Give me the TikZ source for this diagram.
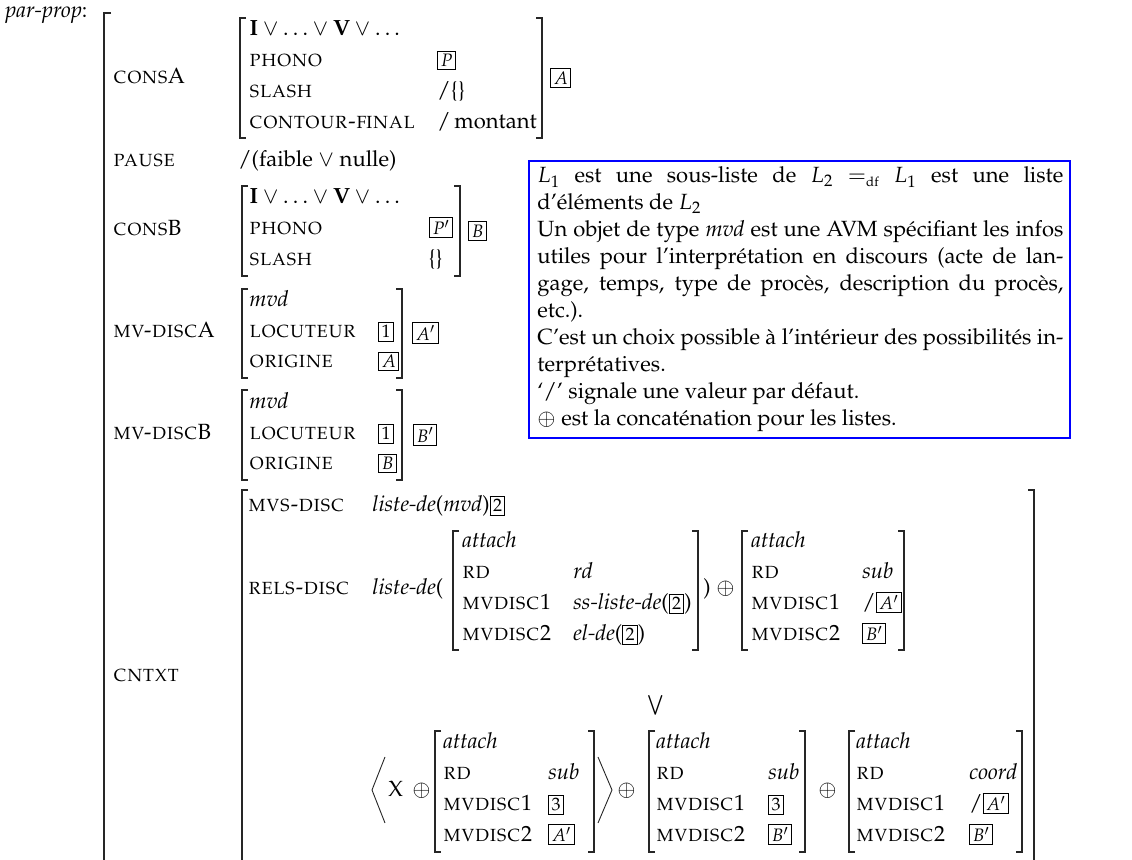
\documentclass[tikz,border=0pt]{standalone}
\usepackage[T1]{fontenc}
\usepackage{mathpazo}
\newcommand{\avtag}[1]{{\setlength{\fboxsep}{1.2pt}\setlength{\fboxrule}{0.45pt}\fbox{\fontsize{9}{10}\selectfont$#1$}}}
\newcommand{\avL}[3]{\draw[brk] ({#1+6},#2) -- (#1,#2) -- (#1,#3) -- ({#1+6},#3);}
\newcommand{\avR}[3]{\draw[brk] ({#1-6},#2) -- (#1,#2) -- (#1,#3) -- ({#1-6},#3);}
\tikzset{
  txt/.style={anchor=base west, inner sep=0pt, font=\fontsize{11}{13.5}\selectfont},
  tg/.style={anchor=west, inner sep=0pt},
  brk/.style={line width=0.65pt, black!85},
  ang/.style={line width=0.45pt, black!85}
}
\begin{document}
\begin{tikzpicture}[x=0.5pt,y=-0.5pt]
\useasboundingbox (0,0) rectangle (1132,860);
% top label and outer bracket
\node[txt] (pp) at (5,18) {\textit{par-prop}:};
\draw[brk] (111,13) -- (104,13) -- (104,880);
% CONS A
\node[txt] (consA) at (113,84) {\textsc{cons}A};
\avL{240}{18}{138}\avR{542}{18}{138}
\node[txt] (a1) at (249,36) {$\mathbf{I}\vee\ldots\vee\mathbf{V}\vee\ldots$};
\node[txt] (a2) at (249,67) {\textsc{phono}};
\node[txt] (a2v) at (437,67) {\avtag{P}};
\node[txt] (a3) at (249,98) {\textsc{slash}};
\node[txt] (a3v) at (437,98) {/\{\}};
\node[txt] (a4) at (249,129) {\textsc{contour-final}};
\node[txt] (a4v) at (437,129) {/\,montant};
\node[tg] (tagA) at (550,78) {\avtag{A}};
% PAUSE
\node[txt] (pause) at (113,167) {\textsc{pause}};
\node[txt] (pausev) at (238,167) {/(faible $\vee$ nulle)};
% CONS B
\node[txt] (consB) at (113,236) {\textsc{cons}B};
\avL{242}{186}{276}\avR{460}{186}{276}
\node[txt] (b1) at (249,204) {$\mathbf{I}\vee\ldots\vee\mathbf{V}\vee\ldots$};
\node[txt] (b2) at (249,235) {\textsc{phono}};
\node[txt] (b2v) at (429,235) {\avtag{P'}};
\node[txt] (b3) at (249,266) {\textsc{slash}};
\node[txt] (b3v) at (428,266) {\{\}};
\node[tg] (tagB) at (468,231) {\avtag{B}};
% MV-DISC A
\node[txt] (mvA) at (113,338) {\textsc{mv-disc}A};
\avL{242}{289}{378}\avR{402}{289}{378}
\node[txt] (m1) at (249,307) {\textit{mvd}};
\node[txt] (m2) at (249,338) {\textsc{locuteur}};
\node[txt] (m2v) at (378,338) {\avtag{1}};
\node[txt] (m3) at (249,368) {\textsc{origine}};
\node[txt] (m3v) at (378,368) {\avtag{A}};
\node[tg] (tagAp) at (412,333) {\avtag{A'}};
% MV-DISC B
\node[txt] (mvB) at (113,440) {\textsc{mv-disc}B};
\avL{242}{390}{480}\avR{402}{390}{480}
\node[txt] (n1) at (249,409) {\textit{mvd}};
\node[txt] (n2) at (249,440) {\textsc{locuteur}};
\node[txt] (n2v) at (378,440) {\avtag{1}};
\node[txt] (n3) at (249,470) {\textsc{origine}};
\node[txt] (n3v) at (378,470) {\avtag{B}};
\node[tg] (tagBp) at (413,435) {\avtag{B'}};
% CNTXT
\node[txt] (cntxt) at (113,682) {\textsc{cntxt}};
\draw[brk] (248,490) -- (242,490) -- (242,880);
\draw[brk] (1028,490) -- (1034,490) -- (1034,880);
\node[txt] (mvs) at (248,512) {\textsc{mvs-disc}};
\node[txt] (mvsv) at (372,512) {\textit{liste-de}(\textit{mvd})\avtag{2}};
\node[txt] (rels) at (248,595) {\textsc{rels-disc}};
\node[txt] (relsv) at (372,595) {\textit{liste-de}(};
% AVM 1
\avL{453}{531}{650}\avR{698}{531}{650}
\node[txt] (p1) at (462,548) {\textit{attach}};
\node[txt] (p2) at (462,579) {\textsc{rd}};
\node[txt] (p2v) at (573,579) {\textit{rd}};
\node[txt] (p3) at (462,610) {\textsc{mvdisc1}};
\node[txt] (p3v) at (573,610) {\textit{ss-liste-de}(\avtag{2})};
\node[txt] (p4) at (462,641) {\textsc{mvdisc2}};
\node[txt] (p4v) at (573,641) {\textit{el-de}(\avtag{2})};
\node[txt] (cp) at (703,595) {)};
\node[txt] (op1) at (716,595) {$\oplus$};
% AVM 2
\avL{742}{531}{650}\avR{904}{531}{650}
\node[txt] (q1) at (751,548) {\textit{attach}};
\node[txt] (q2) at (751,579) {\textsc{rd}};
\node[txt] (q2v) at (862,579) {\textit{sub}};
\node[txt] (q3) at (751,610) {\textsc{mvdisc1}};
\node[txt] (q3v) at (862,610) {/\avtag{A'}};
\node[txt] (q4) at (751,641) {\textsc{mvdisc2}};
\node[txt] (q4v) at (862,641) {\avtag{B'}};
% big or
\node[inner sep=0pt, font=\fontsize{11}{13.5}\selectfont] (bigor) at (656,705) {$\bigvee$};
% bottom line
\draw[ang] (385,757) -- (372,790) -- (385,823);
\node[txt] (X) at (388,797) {X};
\node[txt] (op2) at (412,797) {$\oplus$};
\avL{435}{731}{852}\avR{594}{731}{852}
\node[txt] (r1) at (443,749) {\textit{attach}};
\node[txt] (r2) at (443,780) {\textsc{rd}};
\node[txt] (r2v) at (548,780) {\textit{sub}};
\node[txt] (r3) at (443,811) {\textsc{mvdisc1}};
\node[txt] (r3v) at (548,811) {\avtag{3}};
\node[txt] (r4) at (443,842) {\textsc{mvdisc2}};
\node[txt] (r4v) at (548,842) {\avtag{A'}};
\draw[ang] (598,757) -- (612,790) -- (598,823);
\node[txt] (op3) at (617,797) {$\oplus$};
\avL{649}{731}{852}\avR{805}{731}{852}
\node[txt] (s1) at (656,749) {\textit{attach}};
\node[txt] (s2) at (656,780) {\textsc{rd}};
\node[txt] (s2v) at (768,780) {\textit{sub}};
\node[txt] (s3) at (656,811) {\textsc{mvdisc1}};
\node[txt] (s3v) at (768,811) {\avtag{3}};
\node[txt] (s4) at (656,842) {\textsc{mvdisc2}};
\node[txt] (s4v) at (768,842) {\avtag{B'}};
\node[txt] (op4) at (818,797) {$\oplus$};
\avL{849}{731}{852}\avR{1022}{731}{852}
\node[txt] (u1) at (856,749) {\textit{attach}};
\node[txt] (u2) at (856,780) {\textsc{rd}};
\node[txt] (u2v) at (969,780) {\textit{coord}};
\node[txt] (u3) at (856,811) {\textsc{mvdisc1}};
\node[txt] (u3v) at (969,811) {/\avtag{A'}};
\node[txt] (u4) at (856,842) {\textsc{mvdisc2}};
\node[txt] (u4v) at (969,842) {\avtag{B'}};
% note box
\draw[blue, line width=1pt] (529,161) rectangle (1070,438);
\node[txt] (l1) at (537,183) {\makebox[263pt][s]{$L_1$ est une sous-liste de $L_2$ $=_{\scriptscriptstyle\mathrm{df}}$ $L_1$ est une liste}};
\node[txt] (l2) at (537,210) {d'\'el\'ements de $L_2$};
\node[txt] (l3) at (537,237) {\makebox[263pt][s]{Un objet de type \textit{mvd} est une AVM sp\'ecifiant les infos}};
\node[txt] (l4) at (537,264) {\makebox[263pt][s]{utiles pour l'interpr\'etation en discours (acte de lan-}};
\node[txt] (l5) at (537,291) {\makebox[263pt][s]{gage, temps, type de proc\`es, description du proc\`es,}};
\node[txt] (l6) at (537,318) {etc.).};
\node[txt] (l7) at (537,345) {\makebox[263pt][s]{C'est un choix possible \`a l'int\'erieur des possibilit\'es in-}};
\node[txt] (l8) at (537,372) {terpr\'etatives.};
\node[txt] (l9) at (537,399) {`/' signale une valeur par d\'efaut.};
\node[txt] (l10) at (537,426) {$\oplus$ est la concat\'enation pour les listes.};
\end{tikzpicture}
\end{document}
